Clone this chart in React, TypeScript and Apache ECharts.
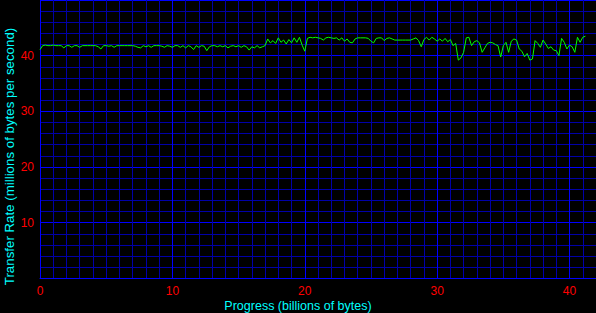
import React, { useEffect, useRef } from "react";
import * as echarts from "echarts";

const xTitle = "Progress (billions of bytes)";
const yTitle = "Transfer Rate (millions of bytes per second)";
const sampleStep = 0.2; // billions of bytes between samples
const transferRate = [
  41.1, 41.8, 41.9, 41.8, 41.8, 41.9, 41.8, 41.8, 41.8, 41.4,
  41.8, 41.8, 41.5, 41.8, 41.8, 41.5, 41.8, 41.8, 41.8, 41.8,
  41.8, 41.8, 41.6, 41.2, 41.8, 41.8, 41.7, 41.8, 41.5, 41.8,
  41.8, 41.8, 41.8, 41.8, 41.8, 41.8, 41.7, 41.5, 41.4, 41.8,
  41.6, 41.8, 41.5, 41.8, 41.8, 41.8, 41.7, 41.5, 41.8, 41.7,
  41.5, 41.8, 41.8, 41.5, 41.8, 41.4, 41.8, 41.6, 41.1, 41.8,
  41.5, 41.8, 41.7, 40.9, 41.6, 41.8, 41.8, 41.6, 41.8, 41.6,
  41.8, 41.4, 41.7, 41.8, 41.6, 41.8, 41.5, 41.8, 41.6, 41.0,
  41.6, 41.4, 41.8, 41.4, 41.6, 41.8,
  43.0, 42.3, 42.7, 42.2, 43.2, 42.4, 42.8, 42.1, 42.9, 42.3,
  43.2, 42.4, 43.3, 41.9, 40.8, 43.1,
  43.3, 43.2, 43.3, 43.2, 43.1, 42.8, 43.2, 43.3, 43.2, 43.1,
  43.2, 42.8, 43.2, 42.6, 43.0, 42.4, 42.3, 43.0, 43.2, 43.2,
  43.2, 43.2, 43.1, 42.6, 42.3, 43.1, 43.2, 43.2, 42.7, 43.1,
  43.2, 43.0, 42.8, 42.8, 42.8, 42.8, 42.8, 42.8, 42.8, 43.0,
  43.2, 42.7, 41.6, 42.9, 43.3, 42.8, 43.3, 43.0, 42.6,
  43.0, 42.6, 43.1, 42.5, 42.9, 41.8, 42.2, 39.2, 39.6, 40.6,
  43.2, 43.3, 41.8, 42.5, 42.7, 42.3, 40.6, 41.4, 42.2, 42.4,
  42.3, 42.0, 41.8, 39.75, 41.8, 42.4, 40.6, 42.6, 43.0, 42.8,
  41.2, 40.8, 39.8, 40.4, 39.2, 39.4, 42.7, 42.2, 41.5, 42.8,
  42.1, 41.3, 41.6, 41.0, 40.9, 40.0, 43.1, 42.4, 41.2, 41.9,
  41.6, 40.6, 43.3, 42.4, 43.3, 43.5,
];
const xTickLabels = [0, 10, 20, 30, 40];
const yTickLabels = [10, 20, 30, 40];

export default function App() {
  const ref = useRef<HTMLDivElement>(null);
  useEffect(() => {
    if (!ref.current) return;
    const chart = echarts.init(ref.current, null, { renderer: "svg" });
    const data = transferRate.map((v, i) => [+(i * sampleStep).toFixed(2), v]);
    const font = "Liberation Sans";
    chart.setOption({
      animation: false,
      backgroundColor: "#000000",
      grid: { left: 40, right: -11, top: -4.2, bottom: 34.7, containLabel: false },
      xAxis: {
        type: "value",
        min: 0,
        max: 42,
        interval: 10,
        axisLine: { show: true, onZero: false, lineStyle: { color: "#0000ff", width: 1 } },
        axisTick: { show: false },
        axisLabel: {
          color: "#ff0000",
          fontSize: 12,
          fontFamily: font,
          margin: 7,
          showMaxLabel: false,
          formatter: (v: number) => (xTickLabels.includes(v) ? String(v) : ""),
        },
        splitLine: { show: true, lineStyle: { color: "#0000ff", width: 1 } },
        minorTick: { show: false, splitNumber: 10 },
        minorSplitLine: { show: true, lineStyle: { color: "#0000a8", width: 1 } },
      },
      yAxis: {
        type: "value",
        min: 0,
        max: 50,
        interval: 10,
        axisLine: { show: true, lineStyle: { color: "#0000ff", width: 1 } },
        axisTick: { show: false },
        axisLabel: {
          color: "#ff0000",
          fontSize: 12,
          fontFamily: font,
          margin: 6,
          formatter: (v: number) => (yTickLabels.includes(v) ? String(v) : ""),
        },
        splitLine: { show: true, lineStyle: { color: "#0000ff", width: 1 } },
        minorTick: { show: false, splitNumber: 5 },
        minorSplitLine: { show: true, lineStyle: { color: "#0000a8", width: 1 } },
      },
      graphic: [
        {
          type: "text",
          x: 298,
          y: 305.5,
          style: {
            text: xTitle,
            fill: "#00ffff",
            font: `12.5px "${font}"`,
            textAlign: "center",
            textVerticalAlign: "middle",
          },
        },
        {
          type: "text",
          x: 9,
          y: 156.5,
          rotation: Math.PI / 2,
          style: {
            text: yTitle,
            fill: "#00ffff",
            font: `13.3px "${font}"`,
            textAlign: "center",
            textVerticalAlign: "middle",
          },
        },
      ],
      series: [
        {
          type: "line",
          data,
          symbol: "none",
          lineStyle: { color: "#00ff00", width: 1 },
          silent: true,
        },
      ],
    });
    return () => chart.dispose();
  }, []);
  return <div ref={ref} style={{ width: 596, height: 313, position: "fixed", left: 0, top: 0 }} />;
}
